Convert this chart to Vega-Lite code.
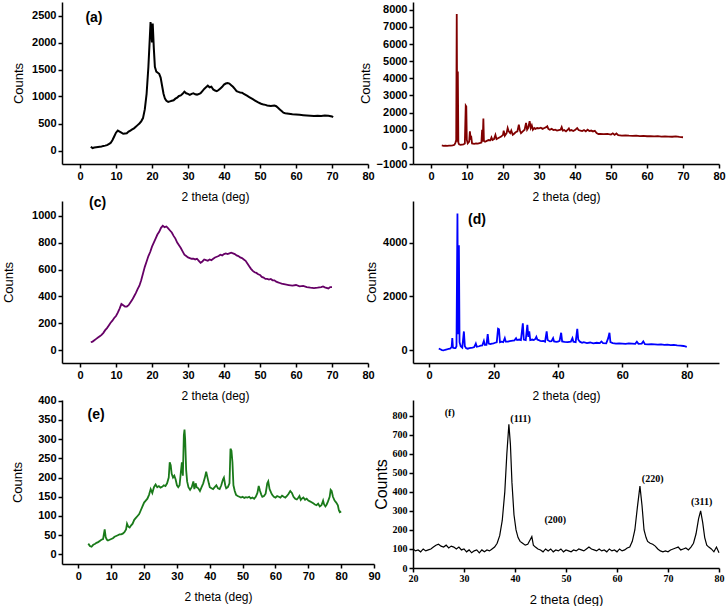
{
"$schema": "https://vega.github.io/schema/vega-lite/v6.json",
"padding": {"left": 2, "top": 2, "right": 0, "bottom": 0},
"background": "white",
"columns": 2,
"bounds": "flush",
"align": "each",
"spacing": {"row": 37, "column": 39},
"config": {"view": {"stroke": null}},
"datasets": {
"a": [
{"theta":3,"counts":70},{"theta":3.5,"counts":45},{"theta":4,"counts":55},{"theta":4.5,"counts":60},{"theta":5,"counts":65},{"theta":5.5,"counts":70},{"theta":6,"counts":75},{"theta":6.5,"counts":85},{"theta":7,"counts":90},{"theta":7.5,"counts":100},{"theta":8,"counts":120},{"theta":8.5,"counts":140},{"theta":9,"counts":190},{"theta":9.5,"counts":260},{"theta":10,"counts":330},{"theta":10.5,"counts":370},{"theta":11,"counts":350},{"theta":11.5,"counts":330},{"theta":12,"counts":310},{"theta":12.5,"counts":315},{"theta":13,"counts":320},{"theta":13.5,"counts":350},{"theta":14,"counts":370},{"theta":14.5,"counts":390},{"theta":15,"counts":410},{"theta":15.5,"counts":440},{"theta":16,"counts":470},{"theta":16.5,"counts":500},{"theta":17,"counts":540},{"theta":17.5,"counts":600},{"theta":18,"counts":760},{"theta":18.5,"counts":1050},{"theta":19,"counts":1550},{"theta":19.4,"counts":2100},{"theta":19.6,"counts":2380},{"theta":19.8,"counts":2200},{"theta":20,"counts":2000},{"theta":20.2,"counts":2350},{"theta":20.5,"counts":1900},{"theta":20.8,"counts":1550},{"theta":21.2,"counts":1460},{"theta":21.6,"counts":1440},{"theta":22,"counts":1420},{"theta":22.4,"counts":1350},{"theta":22.8,"counts":1200},{"theta":23.2,"counts":1050},{"theta":23.6,"counts":960},{"theta":24,"counts":920},{"theta":24.5,"counts":900},{"theta":25,"counts":910},{"theta":25.5,"counts":920},{"theta":26,"counts":930},{"theta":26.5,"counts":960},{"theta":27,"counts":980},{"theta":27.5,"counts":1010},{"theta":28,"counts":1020},{"theta":28.5,"counts":1050},{"theta":29,"counts":1090},{"theta":29.5,"counts":1060},{"theta":30,"counts":1050},{"theta":30.5,"counts":1030},{"theta":31,"counts":1050},{"theta":31.5,"counts":1060},{"theta":32,"counts":1040},{"theta":32.5,"counts":1035},{"theta":33,"counts":1045},{"theta":33.5,"counts":1060},{"theta":34,"counts":1100},{"theta":34.5,"counts":1140},{"theta":35,"counts":1170},{"theta":35.5,"counts":1200},{"theta":36,"counts":1170},{"theta":36.5,"counts":1180},{"theta":37,"counts":1130},{"theta":37.5,"counts":1110},{"theta":38,"counts":1100},{"theta":38.5,"counts":1120},{"theta":39,"counts":1150},{"theta":39.5,"counts":1180},{"theta":40,"counts":1220},{"theta":40.5,"counts":1240},{"theta":41,"counts":1250},{"theta":41.5,"counts":1240},{"theta":42,"counts":1210},{"theta":42.5,"counts":1180},{"theta":43,"counts":1140},{"theta":43.5,"counts":1100},{"theta":44,"counts":1085},{"theta":44.5,"counts":1075},{"theta":45,"counts":1070},{"theta":45.5,"counts":1050},{"theta":46,"counts":1030},{"theta":46.5,"counts":1010},{"theta":47,"counts":990},{"theta":47.5,"counts":970},{"theta":48,"counts":950},{"theta":48.5,"counts":930},{"theta":49,"counts":910},{"theta":49.5,"counts":890},{"theta":50,"counts":875},{"theta":50.5,"counts":860},{"theta":51,"counts":850},{"theta":51.5,"counts":845},{"theta":52,"counts":835},{"theta":52.5,"counts":830},{"theta":53,"counts":825},{"theta":53.5,"counts":830},{"theta":54,"counts":835},{"theta":54.5,"counts":820},{"theta":55,"counts":790},{"theta":55.5,"counts":760},{"theta":56,"counts":730},{"theta":56.5,"counts":700},{"theta":57,"counts":690},{"theta":57.5,"counts":685},{"theta":58,"counts":680},{"theta":58.5,"counts":675},{"theta":59,"counts":670},{"theta":60,"counts":665},{"theta":61,"counts":660},{"theta":62,"counts":655},{"theta":63,"counts":650},{"theta":64,"counts":645},{"theta":65,"counts":640},{"theta":66,"counts":645},{"theta":67,"counts":640},{"theta":68,"counts":650},{"theta":69,"counts":645},{"theta":70,"counts":630},{"theta":70.3,"counts":615}
],
"b": [
{"theta":3,"counts":80},{"theta":3.5,"counts":60},{"theta":4,"counts":70},{"theta":4.5,"counts":60},{"theta":5,"counts":75},{"theta":5.5,"counts":70},{"theta":6,"counts":90},{"theta":6.5,"counts":120},{"theta":6.8,"counts":250},{"theta":7.0,"counts":400},{"theta":7.15,"counts":7750},{"theta":7.3,"counts":300},{"theta":7.45,"counts":4400},{"theta":7.6,"counts":250},{"theta":7.8,"counts":150},{"theta":8.2,"counts":120},{"theta":8.6,"counts":130},{"theta":9,"counts":140},{"theta":9.4,"counts":200},{"theta":9.65,"counts":2400},{"theta":9.8,"counts":2350},{"theta":9.95,"counts":400},{"theta":10.2,"counts":200},{"theta":10.6,"counts":300},{"theta":10.8,"counts":900},{"theta":11.0,"counts":500},{"theta":11.2,"counts":550},{"theta":11.4,"counts":200},{"theta":12,"counts":180},{"theta":12.5,"counts":200},{"theta":13,"counts":190},{"theta":13.5,"counts":220},{"theta":14,"counts":250},{"theta":14.2,"counts":1000},{"theta":14.35,"counts":300},{"theta":14.55,"counts":1650},{"theta":14.7,"counts":350},{"theta":15,"counts":300},{"theta":15.5,"counts":350},{"theta":16,"counts":400},{"theta":16.5,"counts":380},{"theta":16.8,"counts":550},{"theta":17.1,"counts":400},{"theta":17.5,"counts":450},{"theta":17.9,"counts":700},{"theta":18.2,"counts":450},{"theta":18.6,"counts":500},{"theta":19,"counts":550},{"theta":19.5,"counts":600},{"theta":20,"counts":700},{"theta":20.2,"counts":950},{"theta":20.5,"counts":650},{"theta":21,"counts":800},{"theta":21.3,"counts":1100},{"theta":21.6,"counts":900},{"theta":22,"counts":800},{"theta":22.3,"counts":950},{"theta":22.7,"counts":700},{"theta":23,"counts":750},{"theta":23.5,"counts":850},{"theta":24,"counts":900},{"theta":24.4,"counts":1300},{"theta":24.7,"counts":950},{"theta":25,"counts":800},{"theta":25.5,"counts":900},{"theta":26,"counts":1000},{"theta":26.4,"counts":1400},{"theta":26.7,"counts":1000},{"theta":27,"counts":1100},{"theta":27.4,"counts":1500},{"theta":27.7,"counts":1100},{"theta":28,"counts":1250},{"theta":28.3,"counts":1000},{"theta":28.7,"counts":1100},{"theta":29,"counts":1050},{"theta":29.5,"counts":1100},{"theta":30,"counts":1080},{"theta":30.5,"counts":1120},{"theta":31,"counts":1050},{"theta":31.5,"counts":1100},{"theta":32,"counts":1150},{"theta":32.3,"counts":1200},{"theta":32.6,"counts":1050},{"theta":33,"counts":1000},{"theta":33.5,"counts":1050},{"theta":34,"counts":980},{"theta":34.5,"counts":1000},{"theta":35,"counts":950},{"theta":35.5,"counts":980},{"theta":36,"counts":1000},{"theta":36.3,"counts":1150},{"theta":36.6,"counts":950},{"theta":37,"counts":980},{"theta":37.5,"counts":900},{"theta":38,"counts":1000},{"theta":38.3,"counts":1080},{"theta":38.6,"counts":950},{"theta":39,"counts":980},{"theta":39.5,"counts":920},{"theta":40,"counts":980},{"theta":40.6,"counts":1100},{"theta":41,"counts":980},{"theta":41.5,"counts":950},{"theta":42,"counts":920},{"theta":42.5,"counts":980},{"theta":43,"counts":900},{"theta":43.5,"counts":1000},{"theta":44,"counts":920},{"theta":44.5,"counts":950},{"theta":45,"counts":900},{"theta":45.5,"counts":940},{"theta":46,"counts":800},{"theta":46.5,"counts":750},{"theta":47,"counts":760},{"theta":48,"counts":740},{"theta":49,"counts":760},{"theta":50,"counts":720},{"theta":50.5,"counts":790},{"theta":51,"counts":700},{"theta":51.5,"counts":780},{"theta":52,"counts":680},{"theta":53,"counts":660},{"theta":54,"counts":670},{"theta":55,"counts":650},{"theta":56,"counts":640},{"theta":57,"counts":650},{"theta":58,"counts":630},{"theta":59,"counts":640},{"theta":60,"counts":620},{"theta":61,"counts":630},{"theta":62,"counts":610},{"theta":63,"counts":620},{"theta":64,"counts":600},{"theta":65,"counts":610},{"theta":66,"counts":600},{"theta":67,"counts":590},{"theta":68,"counts":610},{"theta":69,"counts":580},{"theta":70,"counts":560}
],
"c": [
{"theta":3,"counts":60},{"theta":3.5,"counts":65},{"theta":4,"counts":75},{"theta":4.5,"counts":85},{"theta":5,"counts":95},{"theta":5.5,"counts":105},{"theta":6,"counts":115},{"theta":6.5,"counts":130},{"theta":7,"counts":150},{"theta":7.5,"counts":165},{"theta":8,"counts":185},{"theta":8.5,"counts":205},{"theta":9,"counts":220},{"theta":9.5,"counts":240},{"theta":10,"counts":255},{"theta":10.5,"counts":280},{"theta":11,"counts":310},{"theta":11.5,"counts":345},{"theta":12,"counts":335},{"theta":12.5,"counts":325},{"theta":13,"counts":325},{"theta":13.5,"counts":335},{"theta":14,"counts":355},{"theta":14.5,"counts":375},{"theta":15,"counts":400},{"theta":15.5,"counts":425},{"theta":16,"counts":455},{"theta":16.5,"counts":480},{"theta":17,"counts":520},{"theta":17.5,"counts":570},{"theta":18,"counts":620},{"theta":18.5,"counts":660},{"theta":19,"counts":700},{"theta":19.5,"counts":730},{"theta":20,"counts":770},{"theta":20.5,"counts":800},{"theta":21,"counts":830},{"theta":21.5,"counts":860},{"theta":22,"counts":880},{"theta":22.5,"counts":910},{"theta":23,"counts":925},{"theta":23.5,"counts":915},{"theta":24,"counts":920},{"theta":24.5,"counts":905},{"theta":25,"counts":890},{"theta":25.5,"counts":875},{"theta":26,"counts":850},{"theta":26.5,"counts":830},{"theta":27,"counts":800},{"theta":27.5,"counts":780},{"theta":28,"counts":760},{"theta":28.5,"counts":735},{"theta":29,"counts":710},{"theta":29.5,"counts":700},{"theta":30,"counts":690},{"theta":30.5,"counts":685},{"theta":31,"counts":680},{"theta":31.5,"counts":680},{"theta":32,"counts":675},{"theta":32.5,"counts":680},{"theta":33,"counts":665},{"theta":33.5,"counts":650},{"theta":34,"counts":660},{"theta":34.5,"counts":675},{"theta":35,"counts":670},{"theta":35.5,"counts":665},{"theta":36,"counts":675},{"theta":36.5,"counts":670},{"theta":37,"counts":680},{"theta":37.5,"counts":690},{"theta":38,"counts":695},{"theta":38.5,"counts":700},{"theta":39,"counts":710},{"theta":39.5,"counts":705},{"theta":40,"counts":715},{"theta":40.5,"counts":720},{"theta":41,"counts":715},{"theta":41.5,"counts":720},{"theta":42,"counts":725},{"theta":42.5,"counts":720},{"theta":43,"counts":715},{"theta":43.5,"counts":705},{"theta":44,"counts":700},{"theta":44.5,"counts":690},{"theta":45,"counts":685},{"theta":45.5,"counts":675},{"theta":46,"counts":665},{"theta":46.5,"counts":645},{"theta":47,"counts":625},{"theta":47.5,"counts":605},{"theta":48,"counts":590},{"theta":48.5,"counts":580},{"theta":49,"counts":575},{"theta":49.5,"counts":565},{"theta":50,"counts":560},{"theta":50.5,"counts":545},{"theta":51,"counts":540},{"theta":51.5,"counts":530},{"theta":52,"counts":530},{"theta":52.5,"counts":525},{"theta":53,"counts":530},{"theta":53.5,"counts":520},{"theta":54,"counts":520},{"theta":54.5,"counts":510},{"theta":55,"counts":505},{"theta":55.5,"counts":500},{"theta":56,"counts":495},{"theta":57,"counts":490},{"theta":58,"counts":485},{"theta":59,"counts":480},{"theta":60,"counts":485},{"theta":61,"counts":475},{"theta":62,"counts":478},{"theta":63,"counts":470},{"theta":64,"counts":465},{"theta":65,"counts":462},{"theta":66,"counts":465},{"theta":67,"counts":470},{"theta":67.5,"counts":475},{"theta":68,"counts":468},{"theta":69,"counts":460},{"theta":69.5,"counts":470},{"theta":70,"counts":470}
],
"d": [
{"theta":3,"counts":60},{"theta":3.5,"counts":40},{"theta":4,"counts":10},{"theta":4.5,"counts":0},{"theta":5,"counts":20},{"theta":5.5,"counts":30},{"theta":6,"counts":50},{"theta":6.5,"counts":60},{"theta":7,"counts":120},{"theta":7.2,"counts":450},{"theta":7.4,"counts":100},{"theta":7.8,"counts":80},{"theta":8.2,"counts":80},{"theta":8.5,"counts":150},{"theta":8.8,"counts":5080},{"theta":9.0,"counts":600},{"theta":9.25,"counts":3900},{"theta":9.45,"counts":300},{"theta":9.8,"counts":150},{"theta":10.3,"counts":100},{"theta":10.8,"counts":700},{"theta":11.1,"counts":150},{"theta":11.5,"counts":80},{"theta":12,"counts":60},{"theta":12.5,"counts":80},{"theta":13,"counts":90},{"theta":13.5,"counts":100},{"theta":14,"counts":120},{"theta":14.5,"counts":250},{"theta":14.8,"counts":130},{"theta":15.5,"counts":150},{"theta":16,"counts":170},{"theta":16.5,"counts":180},{"theta":17,"counts":350},{"theta":17.3,"counts":200},{"theta":17.8,"counts":200},{"theta":18.2,"counts":600},{"theta":18.5,"counts":250},{"theta":19,"counts":230},{"theta":19.5,"counts":250},{"theta":20,"counts":260},{"theta":20.5,"counts":280},{"theta":21,"counts":300},{"theta":21.4,"counts":800},{"theta":21.7,"counts":780},{"theta":22,"counts":300},{"theta":22.5,"counts":320},{"theta":23,"counts":300},{"theta":23.5,"counts":450},{"theta":23.8,"counts":320},{"theta":24.5,"counts":320},{"theta":25,"counts":340},{"theta":25.5,"counts":350},{"theta":26,"counts":360},{"theta":26.5,"counts":370},{"theta":27,"counts":450},{"theta":27.3,"counts":380},{"theta":28,"counts":400},{"theta":28.5,"counts":380},{"theta":29.1,"counts":1000},{"theta":29.4,"counts":400},{"theta":30,"counts":380},{"theta":30.5,"counts":950},{"theta":30.8,"counts":500},{"theta":31.1,"counts":700},{"theta":31.4,"counts":380},{"theta":32,"counts":400},{"theta":32.5,"counts":380},{"theta":33,"counts":420},{"theta":33.3,"counts":500},{"theta":33.6,"counts":400},{"theta":34,"counts":380},{"theta":34.5,"counts":350},{"theta":35,"counts":340},{"theta":35.5,"counts":350},{"theta":36,"counts":320},{"theta":36.5,"counts":700},{"theta":36.8,"counts":380},{"theta":37.5,"counts":330},{"theta":38,"counts":340},{"theta":38.5,"counts":450},{"theta":38.8,"counts":330},{"theta":39.5,"counts":310},{"theta":40,"counts":320},{"theta":40.5,"counts":350},{"theta":41,"counts":650},{"theta":41.3,"counts":330},{"theta":42,"counts":310},{"theta":43,"counts":300},{"theta":44,"counts":320},{"theta":44.5,"counts":450},{"theta":44.8,"counts":320},{"theta":45.5,"counts":300},{"theta":46,"counts":800},{"theta":46.3,"counts":400},{"theta":46.8,"counts":320},{"theta":47.5,"counts":280},{"theta":48,"counts":300},{"theta":49,"counts":270},{"theta":50,"counts":290},{"theta":51,"counts":260},{"theta":52,"counts":280},{"theta":53,"counts":270},{"theta":53.5,"counts":330},{"theta":54,"counts":270},{"theta":55,"counts":260},{"theta":55.6,"counts":450},{"theta":56,"counts":650},{"theta":56.3,"counts":300},{"theta":57,"counts":270},{"theta":58,"counts":250},{"theta":59,"counts":260},{"theta":60,"counts":250},{"theta":61,"counts":240},{"theta":62,"counts":260},{"theta":63,"counts":250},{"theta":64,"counts":240},{"theta":64.5,"counts":320},{"theta":65,"counts":240},{"theta":66,"counts":250},{"theta":66.5,"counts":330},{"theta":67,"counts":230},{"theta":68,"counts":220},{"theta":69,"counts":230},{"theta":70,"counts":220},{"theta":71,"counts":210},{"theta":72,"counts":220},{"theta":73,"counts":200},{"theta":74,"counts":210},{"theta":75,"counts":190},{"theta":76,"counts":200},{"theta":77,"counts":180},{"theta":78,"counts":170},{"theta":79,"counts":160},{"theta":80,"counts":130}
],
"e": [
{"theta":3,"counts":28},{"theta":3.5,"counts":22},{"theta":4,"counts":20},{"theta":4.5,"counts":25},{"theta":5,"counts":27},{"theta":5.5,"counts":30},{"theta":6,"counts":32},{"theta":6.5,"counts":35},{"theta":7,"counts":38},{"theta":7.5,"counts":40},{"theta":7.8,"counts":55},{"theta":8,"counts":65},{"theta":8.3,"counts":45},{"theta":8.7,"counts":38},{"theta":9,"counts":36},{"theta":9.5,"counts":38},{"theta":10,"counts":40},{"theta":10.5,"counts":42},{"theta":11,"counts":46},{"theta":11.5,"counts":48},{"theta":12,"counts":50},{"theta":12.5,"counts":52},{"theta":13,"counts":52},{"theta":13.5,"counts":54},{"theta":14,"counts":58},{"theta":14.5,"counts":65},{"theta":14.8,"counts":80},{"theta":15.2,"counts":72},{"theta":15.6,"counts":70},{"theta":16,"counts":75},{"theta":16.5,"counts":80},{"theta":17,"counts":90},{"theta":17.5,"counts":95},{"theta":18,"counts":100},{"theta":18.5,"counts":105},{"theta":19,"counts":115},{"theta":19.5,"counts":125},{"theta":20,"counts":135},{"theta":20.5,"counts":140},{"theta":21,"counts":145},{"theta":21.5,"counts":155},{"theta":22,"counts":170},{"theta":22.5,"counts":160},{"theta":23,"counts":175},{"theta":23.5,"counts":182},{"theta":24,"counts":175},{"theta":24.5,"counts":178},{"theta":25,"counts":174},{"theta":25.5,"counts":176},{"theta":26,"counts":180},{"theta":26.5,"counts":178},{"theta":27,"counts":185},{"theta":27.5,"counts":200},{"theta":27.8,"counts":240},{"theta":28.1,"counts":232},{"theta":28.4,"counts":210},{"theta":28.8,"counts":200},{"theta":29.2,"counts":205},{"theta":29.6,"counts":195},{"theta":30,"counts":180},{"theta":30.4,"counts":175},{"theta":30.8,"counts":180},{"theta":31.2,"counts":215},{"theta":31.5,"counts":240},{"theta":31.8,"counts":205},{"theta":32.1,"counts":310},{"theta":32.3,"counts":325},{"theta":32.5,"counts":300},{"theta":32.8,"counts":220},{"theta":33.1,"counts":190},{"theta":33.5,"counts":175},{"theta":34,"counts":168},{"theta":34.5,"counts":175},{"theta":35,"counts":190},{"theta":35.3,"counts":170},{"theta":35.7,"counts":185},{"theta":36,"counts":175},{"theta":36.5,"counts":172},{"theta":37,"counts":165},{"theta":37.5,"counts":175},{"theta":38,"counts":185},{"theta":38.5,"counts":200},{"theta":38.9,"counts":215},{"theta":39.3,"counts":200},{"theta":39.7,"counts":185},{"theta":40,"counts":175},{"theta":40.5,"counts":172},{"theta":41,"counts":170},{"theta":41.5,"counts":175},{"theta":42,"counts":180},{"theta":42.5,"counts":172},{"theta":43,"counts":170},{"theta":43.5,"counts":180},{"theta":44,"counts":195},{"theta":44.3,"counts":200},{"theta":44.7,"counts":180},{"theta":45,"counts":172},{"theta":45.5,"counts":175},{"theta":46,"counts":185},{"theta":46.3,"counts":275},{"theta":46.6,"counts":270},{"theta":46.9,"counts":240},{"theta":47.2,"counts":180},{"theta":47.6,"counts":165},{"theta":48,"counts":155},{"theta":48.5,"counts":152},{"theta":49,"counts":150},{"theta":49.5,"counts":148},{"theta":50,"counts":150},{"theta":50.5,"counts":147},{"theta":51,"counts":149},{"theta":51.5,"counts":148},{"theta":52,"counts":150},{"theta":52.5,"counts":146},{"theta":53,"counts":148},{"theta":53.5,"counts":145},{"theta":54,"counts":150},{"theta":54.5,"counts":160},{"theta":54.9,"counts":178},{"theta":55.3,"counts":165},{"theta":55.7,"counts":155},{"theta":56,"counts":150},{"theta":56.5,"counts":152},{"theta":57,"counts":158},{"theta":57.5,"counts":185},{"theta":57.8,"counts":190},{"theta":58.2,"counts":170},{"theta":58.7,"counts":160},{"theta":59,"counts":155},{"theta":59.5,"counts":150},{"theta":60,"counts":148},{"theta":60.5,"counts":152},{"theta":61,"counts":150},{"theta":61.5,"counts":148},{"theta":62,"counts":153},{"theta":62.5,"counts":150},{"theta":63,"counts":148},{"theta":63.5,"counts":152},{"theta":64,"counts":158},{"theta":64.5,"counts":165},{"theta":65,"counts":160},{"theta":65.5,"counts":150},{"theta":66,"counts":145},{"theta":66.5,"counts":143},{"theta":67,"counts":148},{"theta":67.3,"counts":152},{"theta":67.7,"counts":142},{"theta":68,"counts":145},{"theta":68.5,"counts":148},{"theta":69,"counts":142},{"theta":69.5,"counts":145},{"theta":70,"counts":140},{"theta":70.5,"counts":138},{"theta":71,"counts":136},{"theta":71.5,"counts":133},{"theta":72,"counts":130},{"theta":72.5,"counts":128},{"theta":73,"counts":132},{"theta":73.5,"counts":125},{"theta":74,"counts":128},{"theta":74.5,"counts":140},{"theta":74.8,"counts":130},{"theta":75.2,"counts":125},{"theta":75.6,"counts":130},{"theta":76,"counts":138},{"theta":76.5,"counts":150},{"theta":76.8,"counts":168},{"theta":77.1,"counts":165},{"theta":77.5,"counts":150},{"theta":78,"counts":140},{"theta":78.5,"counts":135},{"theta":79,"counts":128},{"theta":79.3,"counts":115},{"theta":79.6,"counts":110},{"theta":80,"counts":112}
],
"f": [
{"theta":20,"counts":100},{"theta":20.5,"counts":90},{"theta":21,"counts":95},{"theta":21.5,"counts":85},{"theta":22,"counts":100},{"theta":22.5,"counts":90},{"theta":23,"counts":95},{"theta":23.5,"counts":100},{"theta":24,"counts":110},{"theta":24.5,"counts":120},{"theta":25,"counts":125},{"theta":25.5,"counts":115},{"theta":26,"counts":110},{"theta":26.5,"counts":120},{"theta":27,"counts":105},{"theta":27.5,"counts":115},{"theta":28,"counts":110},{"theta":28.5,"counts":100},{"theta":29,"counts":110},{"theta":29.5,"counts":95},{"theta":30,"counts":100},{"theta":30.5,"counts":85},{"theta":31,"counts":95},{"theta":31.5,"counts":80},{"theta":32,"counts":90},{"theta":32.5,"counts":95},{"theta":33,"counts":80},{"theta":33.5,"counts":95},{"theta":34,"counts":85},{"theta":34.5,"counts":95},{"theta":35,"counts":90},{"theta":35.5,"counts":100},{"theta":36,"counts":110},{"theta":36.5,"counts":130},{"theta":37,"counts":170},{"theta":37.5,"counts":250},{"theta":38,"counts":400},{"theta":38.4,"counts":600},{"theta":38.8,"counts":755},{"theta":39.1,"counts":650},{"theta":39.4,"counts":450},{"theta":39.8,"counts":280},{"theta":40.2,"counts":200},{"theta":40.6,"counts":160},{"theta":41,"counts":140},{"theta":41.5,"counts":130},{"theta":42,"counts":120},{"theta":42.5,"counts":125},{"theta":43,"counts":150},{"theta":43.3,"counts":165},{"theta":43.6,"counts":120},{"theta":44,"counts":110},{"theta":44.5,"counts":100},{"theta":45,"counts":95},{"theta":45.5,"counts":85},{"theta":46,"counts":100},{"theta":46.5,"counts":90},{"theta":47,"counts":100},{"theta":47.5,"counts":85},{"theta":48,"counts":95},{"theta":48.5,"counts":90},{"theta":49,"counts":100},{"theta":49.5,"counts":85},{"theta":50,"counts":95},{"theta":50.5,"counts":90},{"theta":51,"counts":85},{"theta":51.5,"counts":95},{"theta":52,"counts":90},{"theta":52.5,"counts":100},{"theta":53,"counts":95},{"theta":53.5,"counts":90},{"theta":54,"counts":100},{"theta":54.5,"counts":110},{"theta":55,"counts":100},{"theta":55.5,"counts":95},{"theta":56,"counts":90},{"theta":56.5,"counts":100},{"theta":57,"counts":90},{"theta":57.5,"counts":95},{"theta":58,"counts":85},{"theta":58.5,"counts":100},{"theta":59,"counts":90},{"theta":59.5,"counts":95},{"theta":60,"counts":85},{"theta":60.5,"counts":100},{"theta":61,"counts":90},{"theta":61.5,"counts":95},{"theta":62,"counts":105},{"theta":62.5,"counts":110},{"theta":63,"counts":140},{"theta":63.5,"counts":200},{"theta":64,"counts":320},{"theta":64.5,"counts":430},{"theta":64.9,"counts":330},{"theta":65.3,"counts":200},{"theta":65.7,"counts":160},{"theta":66,"counts":140},{"theta":66.5,"counts":130},{"theta":67,"counts":125},{"theta":67.5,"counts":115},{"theta":68,"counts":100},{"theta":68.5,"counts":90},{"theta":69,"counts":85},{"theta":69.5,"counts":90},{"theta":70,"counts":85},{"theta":70.5,"counts":95},{"theta":71,"counts":100},{"theta":71.5,"counts":105},{"theta":72,"counts":110},{"theta":72.5,"counts":95},{"theta":73,"counts":100},{"theta":73.5,"counts":105},{"theta":74,"counts":95},{"theta":74.5,"counts":110},{"theta":75,"counts":130},{"theta":75.5,"counts":180},{"theta":76,"counts":260},{"theta":76.4,"counts":300},{"theta":76.8,"counts":240},{"theta":77.2,"counts":160},{"theta":77.6,"counts":120},{"theta":78,"counts":110},{"theta":78.5,"counts":100},{"theta":79,"counts":85},{"theta":79.5,"counts":110},{"theta":80,"counts":80}
]
},
"concat": [
{
  "width": 306, "height": 162,
  "encoding": {
    "x": {"field": "theta", "type": "quantitative", "scale": {"domain": [-5, 80], "nice": false, "zero": false},
      "axis": {"values": [0,10,20,30,40,50,60,70,80], "format": "d", "title": "2 theta (deg)", "domain": true, "ticks": true, "grid": false, "labelOverlap": false, "labelFlush": false, "labelBound": false, "domainColor": "black", "domainWidth": 1.5, "domainOpacity": 1, "tickColor": "black", "tickWidth": 1.5, "tickOpacity": 1, "tickSize": 4, "labelPadding": 2, "labelFont": "Liberation Sans", "labelFontSize": 11, "labelFontWeight": "bold", "labelColor": "black", "labelAngle": 0, "titleFont": "Liberation Sans", "titleFontSize": 12, "titleFontWeight": "normal", "titleColor": "black", "titlePadding": 10, "offset": 0}},
    "y": {"field": "counts", "type": "quantitative", "scale": {"domain": [-250, 2750], "nice": false, "zero": false},
      "axis": {"values": [0,500,1000,1500,2000,2500], "format": "d", "title": "Counts", "domain": true, "ticks": true, "grid": false, "labelOverlap": false, "labelFlush": false, "labelBound": false, "domainColor": "black", "domainWidth": 1.5, "domainOpacity": 1, "tickColor": "black", "tickWidth": 1.5, "tickOpacity": 1, "tickSize": 4, "labelPadding": 2, "labelFont": "Liberation Sans", "labelFontSize": 11, "labelFontWeight": "bold", "labelColor": "black", "titleFont": "Liberation Sans", "titleFontSize": 13, "titleFontWeight": "normal", "titleColor": "black", "titlePadding": 6, "offset": 0}}},
  "layer": [
    {"data": {"name": "a"}, "mark": {"type": "line", "color": "black", "strokeWidth": 2}},
    {"data": {"values": [{"theta": 1.5, "counts": 2450, "label": "(a)"}]}, "mark": {"type": "text", "align": "left", "baseline": "middle", "font": "Liberation Sans", "fontWeight": "bold", "fontSize": 14, "color": "black"},
     "encoding": {"text": {"field": "label"}}}
  ]
},
{
  "width": 306, "height": 162,
  "data": {"name": "b"}, "mark": {"type": "line", "color": "#800000", "strokeWidth": 1.8},
  "encoding": {
    "x": {"field": "theta", "type": "quantitative", "scale": {"domain": [-5, 80], "nice": false, "zero": false},
      "axis": {"values": [0,10,20,30,40,50,60,70,80], "format": "d", "title": "2 theta (deg)", "domain": true, "ticks": true, "grid": false, "labelOverlap": false, "labelFlush": false, "labelBound": false, "domainColor": "black", "domainWidth": 1.5, "domainOpacity": 1, "tickColor": "black", "tickWidth": 1.5, "tickOpacity": 1, "tickSize": 4, "labelPadding": 2, "labelFont": "Liberation Sans", "labelFontSize": 11, "labelFontWeight": "bold", "labelColor": "black", "labelAngle": 0, "titleFont": "Liberation Sans", "titleFontSize": 12, "titleFontWeight": "normal", "titleColor": "black", "titlePadding": 10, "offset": 0}},
    "y": {"field": "counts", "type": "quantitative", "scale": {"domain": [-1000, 8450], "nice": false, "zero": false},
      "axis": {"values": [-1000,0,1000,2000,3000,4000,5000,6000,7000,8000], "format": "d", "title": "Counts", "domain": true, "ticks": true, "grid": false, "labelOverlap": false, "labelFlush": false, "labelBound": false, "domainColor": "black", "domainWidth": 1.5, "domainOpacity": 1, "tickColor": "black", "tickWidth": 1.5, "tickOpacity": 1, "tickSize": 4, "labelPadding": 2, "labelFont": "Liberation Sans", "labelFontSize": 11, "labelFontWeight": "bold", "labelColor": "black", "titleFont": "Liberation Sans", "titleFontSize": 13, "titleFontWeight": "normal", "titleColor": "black", "titlePadding": 4, "offset": 0}}}
},
{
  "width": 306, "height": 162,
  "title": {"text": "(c)", "anchor": "start", "frame": "group", "orient": "top", "offset": 0, "dx": 27, "dy": 16, "baseline": "middle", "font": "Liberation Sans", "fontSize": 14, "fontWeight": "bold", "color": "black"},
  "data": {"name": "c"}, "mark": {"type": "line", "color": "#660066", "strokeWidth": 1.8},
  "encoding": {
    "x": {"field": "theta", "type": "quantitative", "scale": {"domain": [-5, 80], "nice": false, "zero": false},
      "axis": {"values": [0,10,20,30,40,50,60,70,80], "format": "d", "title": "2 theta (deg)", "domain": true, "ticks": true, "grid": false, "labelOverlap": false, "labelFlush": false, "labelBound": false, "domainColor": "black", "domainWidth": 1.5, "domainOpacity": 1, "tickColor": "black", "tickWidth": 1.5, "tickOpacity": 1, "tickSize": 4, "labelPadding": 2, "labelFont": "Liberation Sans", "labelFontSize": 11, "labelFontWeight": "bold", "labelColor": "black", "labelAngle": 0, "titleFont": "Liberation Sans", "titleFontSize": 12, "titleFontWeight": "normal", "titleColor": "black", "titlePadding": 10, "offset": 0}},
    "y": {"field": "counts", "type": "quantitative", "scale": {"domain": [-94, 1109], "nice": false, "zero": false},
      "axis": {"values": [0,200,400,600,800,1000], "format": "d", "title": "Counts", "domain": true, "ticks": true, "grid": false, "labelOverlap": false, "labelFlush": false, "labelBound": false, "domainColor": "black", "domainWidth": 1.5, "domainOpacity": 1, "tickColor": "black", "tickWidth": 1.5, "tickOpacity": 1, "tickSize": 4, "labelPadding": 2, "labelFont": "Liberation Sans", "labelFontSize": 11, "labelFontWeight": "bold", "labelColor": "black", "titleFont": "Liberation Sans", "titleFontSize": 13, "titleFontWeight": "normal", "titleColor": "black", "titlePadding": 16, "offset": 0}}}
},
{
  "width": 306, "height": 162,
  "layer": [
    {"data": {"name": "d"}, "mark": {"type": "line", "color": "#0000ff", "strokeWidth": 1.8},
     "encoding": {
    "x": {"field": "theta", "type": "quantitative", "scale": {"domain": [-5, 90], "nice": false, "zero": false},
      "axis": {"values": [0,10,20,30,40,50,60,70,80,90], "format": "d", "title": "2 theta (deg)", "domain": true, "ticks": true, "grid": false, "labelOverlap": false, "labelFlush": false, "labelBound": false, "domainColor": "black", "domainWidth": 1.5, "domainOpacity": 1, "tickColor": "black", "tickWidth": 1.5, "tickOpacity": 1, "tickSize": 4, "labelPadding": 2, "labelFont": "Liberation Sans", "labelFontSize": 11, "labelFontWeight": "bold", "labelColor": "black", "labelAngle": 0, "titleFont": "Liberation Sans", "titleFontSize": 12, "titleFontWeight": "normal", "titleColor": "black", "titlePadding": 10, "offset": 0}},
    "y": {"field": "counts", "type": "quantitative", "scale": {"domain": [-472, 5546], "nice": false, "zero": false},
      "axis": {"values": [0,1000,2000,3000,4000,5000], "format": "d", "title": "Counts", "domain": true, "ticks": true, "grid": false, "labelOverlap": false, "labelFlush": false, "labelBound": false, "domainColor": "black", "domainWidth": 1.5, "domainOpacity": 1, "tickColor": "black", "tickWidth": 1.5, "tickOpacity": 1, "tickSize": 4, "labelPadding": 2, "labelFont": "Liberation Sans", "labelFontSize": 11, "labelFontWeight": "bold", "labelColor": "black", "titleFont": "Liberation Sans", "titleFontSize": 13, "titleFontWeight": "normal", "titleColor": "black", "titlePadding": 4, "offset": 0}}}},
    {"data": {"values": [{"label": "(d)"}]}, "mark": {"type": "text", "align": "left", "baseline": "middle", "font": "Liberation Sans", "fontWeight": "bold", "fontSize": 14, "color": "black"},
     "encoding": {"x": {"datum": 12.1, "type": "quantitative"}, "y": {"datum": 4840, "type": "quantitative"}, "text": {"field": "label"}}}
  ]
},
{
  "width": 312, "height": 164,
  "layer": [
    {"data": {"name": "e"}, "mark": {"type": "line", "color": "#1a7a1a", "strokeWidth": 1.8},
     "encoding": {
    "x": {"field": "theta", "type": "quantitative", "scale": {"domain": [-5, 90], "nice": false, "zero": false},
      "axis": {"values": [0,10,20,30,40,50,60,70,80,90], "format": "d", "title": "2 theta (deg)", "domain": true, "ticks": true, "grid": false, "labelOverlap": false, "labelFlush": false, "labelBound": false, "domainColor": "black", "domainWidth": 1.5, "domainOpacity": 1, "tickColor": "black", "tickWidth": 1.5, "tickOpacity": 1, "tickSize": 4, "labelPadding": 2, "labelFont": "Liberation Sans", "labelFontSize": 11, "labelFontWeight": "bold", "labelColor": "black", "labelAngle": 0, "titleFont": "Liberation Sans", "titleFontSize": 12, "titleFontWeight": "normal", "titleColor": "black", "titlePadding": 10, "offset": 0}},
    "y": {"field": "counts", "type": "quantitative", "scale": {"domain": [-25, 402], "nice": false, "zero": false},
      "axis": {"values": [0,50,100,150,200,250,300,350,400], "format": "d", "title": "Counts", "domain": true, "ticks": true, "grid": false, "labelOverlap": false, "labelFlush": false, "labelBound": false, "domainColor": "black", "domainWidth": 1.5, "domainOpacity": 1, "tickColor": "black", "tickWidth": 1.5, "tickOpacity": 1, "tickSize": 4, "labelPadding": 2, "labelFont": "Liberation Sans", "labelFontSize": 11, "labelFontWeight": "bold", "labelColor": "black", "titleFont": "Liberation Sans", "titleFontSize": 13, "titleFontWeight": "normal", "titleColor": "black", "titlePadding": 13, "offset": 0}}}},
    {"data": {"values": [{"theta": 2.8, "counts": 363, "label": "(e)"}]}, "mark": {"type": "text", "align": "left", "baseline": "middle", "font": "Liberation Sans", "fontWeight": "bold", "fontSize": 14, "color": "black"},
     "encoding": {
    "x": {"field": "theta", "type": "quantitative", "scale": {"domain": [-5, 90], "nice": false, "zero": false},
      "axis": {"values": [0,10,20,30,40,50,60,70,80,90], "format": "d", "title": "2 theta (deg)", "domain": true, "ticks": true, "grid": false, "labelOverlap": false, "labelFlush": false, "labelBound": false, "domainColor": "black", "domainWidth": 1.5, "domainOpacity": 1, "tickColor": "black", "tickWidth": 1.5, "tickOpacity": 1, "tickSize": 4, "labelPadding": 2, "labelFont": "Liberation Sans", "labelFontSize": 11, "labelFontWeight": "bold", "labelColor": "black", "labelAngle": 0, "titleFont": "Liberation Sans", "titleFontSize": 12, "titleFontWeight": "normal", "titleColor": "black", "titlePadding": 10, "offset": 0}},
    "y": {"field": "counts", "type": "quantitative", "scale": {"domain": [-25, 402], "nice": false, "zero": false},
      "axis": {"values": [0,50,100,150,200,250,300,350,400], "format": "d", "title": "Counts", "domain": true, "ticks": true, "grid": false, "labelOverlap": false, "labelFlush": false, "labelBound": false, "domainColor": "black", "domainWidth": 1.5, "domainOpacity": 1, "tickColor": "black", "tickWidth": 1.5, "tickOpacity": 1, "tickSize": 4, "labelPadding": 2, "labelFont": "Liberation Sans", "labelFontSize": 11, "labelFontWeight": "bold", "labelColor": "black", "titleFont": "Liberation Sans", "titleFontSize": 13, "titleFontWeight": "normal", "titleColor": "black", "titlePadding": 13, "offset": 0}},
    "text": {"field": "label"}}}
  ]
},
{
  "width": 306, "height": 168,
  "encoding": {
    "x": {"field": "theta", "type": "quantitative", "scale": {"domain": [20, 80], "nice": false, "zero": false},
      "axis": {"values": [20,30,40,50,60,70,80], "format": "d", "title": "2 theta (deg)", "domain": true, "ticks": true, "grid": false, "labelOverlap": false, "labelFlush": false, "labelBound": false, "domainColor": "black", "domainWidth": 1.5, "domainOpacity": 1, "tickColor": "black", "tickWidth": 1.5, "tickOpacity": 1, "tickSize": 4, "labelPadding": 1, "labelFont": "Liberation Serif", "labelFontSize": 10, "labelFontWeight": "bold", "labelColor": "black", "labelAngle": 0, "titleFont": "Liberation Sans", "titleFontSize": 13, "titleFontWeight": "normal", "titleColor": "black", "titlePadding": 10, "offset": 0}},
    "y": {"field": "counts", "type": "quantitative", "scale": {"domain": [0, 883], "nice": false, "zero": false},
      "axis": {"values": [0,100,200,300,400,500,600,700,800], "format": "d", "title": "Counts", "domain": true, "ticks": true, "grid": false, "labelOverlap": false, "labelFlush": false, "labelBound": false, "domainColor": "black", "domainWidth": 1.5, "domainOpacity": 1, "tickColor": "black", "tickWidth": 1.5, "tickOpacity": 1, "tickSize": 4, "labelPadding": 2, "labelFont": "Liberation Serif", "labelFontSize": 10, "labelFontWeight": "bold", "labelColor": "black", "titleFont": "Liberation Sans", "titleFontSize": 16, "titleFontWeight": "normal", "titleColor": "black", "titlePadding": 3, "offset": 0}}},
  "layer": [
    {"data": {"name": "f"}, "mark": {"type": "line", "color": "black", "strokeWidth": 1.2}},
    {"data": {"values": [{"theta": 27.2, "counts": 814, "label": "(f)"}, {"theta": 41.1, "counts": 783, "label": "(111)"}, {"theta": 47.9, "counts": 251, "label": "(200)"}, {"theta": 67, "counts": 468, "label": "(220)"}, {"theta": 76.6, "counts": 347, "label": "(311)"}]},
     "mark": {"type": "text", "align": "center", "baseline": "middle", "font": "Liberation Serif", "fontWeight": "bold", "fontSize": 10, "color": "black"},
     "encoding": {"text": {"field": "label"}}}
  ]
}
]
}
